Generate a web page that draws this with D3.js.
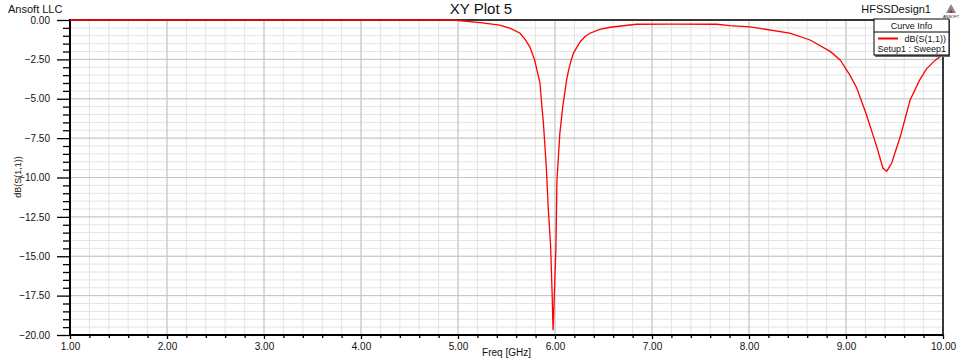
<!DOCTYPE html>
<html>
<head>
<meta charset="utf-8">
<script src="https://cdn.jsdelivr.net/npm/d3@7"></script>
<style>
  body { margin: 0; background: #fff; }
  text { font-family: "Liberation Sans", Arial, sans-serif; fill: #111; }
</style>
</head>
<body>
<svg width="967" height="362"></svg>
<script>
// frequency sweep, GHz
var freq = [1.0, 2.0, 3.0, 4.0, 4.95, 5.23, 5.43, 5.54, 5.64, 5.69, 5.74, 5.79, 5.845, 5.865, 5.88, 5.91, 5.93, 5.955, 5.97, 5.98,
            5.99, 6.01, 6.02, 6.05, 6.08, 6.12, 6.14, 6.165, 6.19, 6.26, 6.31, 6.36, 6.46, 6.57, 6.84, 7.2, 7.67, 7.80, 8.01, 8.11,
            8.42, 8.63, 8.84, 8.94, 9.04, 9.11, 9.21, 9.32, 9.38, 9.42, 9.47, 9.56, 9.66, 9.76, 9.83, 9.92, 10.0];
// dB(S(1,1))
var s11 = [0, 0, 0, 0, 0, -0.17, -0.32, -0.53, -0.84, -1.22, -1.7, -2.54, -4.0, -5.5, -6.5, -9.3, -11.9, -14.4, -17.3, -19.7,
           -18.0, -14.4, -10.2, -7.2, -5.5, -3.8, -3.2, -2.6, -2.1, -1.38, -1.05, -0.84, -0.59, -0.46, -0.27, -0.26, -0.27, -0.36, -0.44, -0.53,
           -0.84, -1.27, -2.01, -2.54, -3.5, -4.3, -6.0, -8.1, -9.4, -9.6, -9.1, -7.4, -5.1, -3.8, -3.1, -2.55, -2.2];

var xTicks = [1, 2, 3, 4, 5, 6, 7, 8, 9, 10];
var yTicks = [0, -2.5, -5, -7.5, -10, -12.5, -15, -17.5, -20];

var svg = d3.select("svg");
var plotL = 70, plotR = 943, plotT = 20, plotB = 335; // plot box edges

var x = d3.scaleLinear().domain([1, 10]).range([plotL, plotR]);
var y = d3.scaleLinear().domain([-20, 0]).range([plotB, plotT]);

// grid: minor first, then major
var minorX = d3.range(1, 10.001, 0.2), minorY = d3.range(-20, 0.001, 0.5);
var grid = svg.append("g");
grid.selectAll(".mx").data(minorX).enter().append("line")
    .attr("x1", d => x(d)).attr("x2", d => x(d)).attr("y1", plotT).attr("y2", plotB)
    .attr("stroke", "#e4e4e4");
grid.selectAll(".my").data(minorY).enter().append("line")
    .attr("y1", d => y(d)).attr("y2", d => y(d)).attr("x1", plotL).attr("x2", plotR)
    .attr("stroke", "#e4e4e4");
grid.selectAll(".jx").data(xTicks).enter().append("line")
    .attr("x1", d => x(d)).attr("x2", d => x(d)).attr("y1", plotT).attr("y2", plotB)
    .attr("stroke", "#c4c4c4");
grid.selectAll(".jy").data(yTicks).enter().append("line")
    .attr("y1", d => y(d)).attr("y2", d => y(d)).attr("x1", plotL).attr("x2", plotR)
    .attr("stroke", "#c4c4c4");

// frame
svg.append("line").attr("x1", plotL).attr("x2", plotR).attr("y1", plotT).attr("y2", plotT).attr("stroke", "#000").attr("stroke-width", 1.5);
svg.append("line").attr("x1", plotR).attr("x2", plotR).attr("y1", plotT).attr("y2", plotB).attr("stroke", "#000").attr("stroke-width", 1.5);

// axes
var yAxis = d3.axisLeft(y).tickValues(yTicks).tickFormat(d3.format(".2f")).tickSize(13).tickPadding(7);
var gy = svg.append("g").attr("transform", "translate(" + plotL + ",0)").call(yAxis);
gy.select(".domain").remove();
gy.selectAll("text").style("font-size", "10px").attr("font-family", null);
gy.selectAll("line").attr("stroke", "#000").attr("stroke-width", 1.3);
svg.append("g").attr("transform", "translate(" + plotL + ",0)")
    .call(d3.axisLeft(y).tickValues(minorY.filter(d => d % 2.5 !== 0)).tickSize(7).tickFormat(""))
    .call(g => g.select(".domain").remove())
    .selectAll("line").attr("stroke", "#000").attr("stroke-width", 1.3);

var xAxis = d3.axisBottom(x).tickValues(xTicks).tickFormat(d3.format(".2f")).tickSize(4).tickPadding(4);
var gx = svg.append("g").attr("transform", "translate(0," + plotB + ")").call(xAxis);
gx.select(".domain").remove();
gx.selectAll("text").style("font-size", "10px");
gx.selectAll("line").attr("stroke", "#000").attr("stroke-width", 1.3);
svg.append("g").attr("transform", "translate(0," + plotB + ")")
    .call(d3.axisBottom(x).tickValues(minorX.filter(d => Math.abs(d - Math.round(d)) > 0.01)).tickSize(3).tickFormat(""))
    .call(g => g.select(".domain").remove())
    .selectAll("line").attr("stroke", "#000").attr("stroke-width", 1.3);

svg.append("line").attr("x1", plotL).attr("x2", plotL).attr("y1", plotT - 1).attr("y2", plotB + 1).attr("stroke", "#000").attr("stroke-width", 2);
svg.append("line").attr("x1", plotL).attr("x2", plotR).attr("y1", plotB).attr("y2", plotB).attr("stroke", "#000").attr("stroke-width", 2);

// curve
var line = d3.line().x((d, i) => x(freq[i])).y(d => y(d));
svg.append("path").datum(s11).attr("d", line)
    .attr("fill", "none").attr("stroke", "#ff0000").attr("stroke-width", 1.3);

// texts
svg.append("text").attr("x", 8).attr("y", 13).style("font-size", "11px").text("Ansoft LLC");
svg.append("text").attr("x", 481).attr("y", 14).attr("text-anchor", "middle").style("font-size", "15px").text("XY Plot 5");
svg.append("text").attr("x", 931).attr("y", 13).attr("text-anchor", "end").style("font-size", "11px").text("HFSSDesign1");
svg.append("text").attr("x", (plotL + plotR) / 2).attr("y", 356).attr("text-anchor", "middle").style("font-size", "10px").text("Freq [GHz]");
svg.append("text").attr("transform", "translate(21,177) rotate(-90)").attr("text-anchor", "middle").style("font-size", "9px").text("dB(S(1,1))");

// logo
var logo = svg.append("g").attr("transform", "translate(946,4)");
logo.append("path").attr("d", "M0,9 L5,0 L10,9 Z").attr("fill", "#888");
logo.append("path").attr("d", "M3,9 L5,5 L7,9 Z").attr("fill", "#d22");
logo.append("text").attr("x", 5).attr("y", 14).attr("text-anchor", "middle").style("font-size", "4px").text("ANSOFT");

// legend
var lg = svg.append("g").attr("transform", "translate(874,19)");
lg.append("rect").attr("x", 1).attr("y", 1).attr("width", 75).attr("height", 37).attr("fill", "#666");
lg.append("rect").attr("width", 75).attr("height", 36).attr("fill", "#fff").attr("stroke", "#000");
lg.append("line").attr("x1", 0).attr("x2", 75).attr("y1", 13).attr("y2", 13).attr("stroke", "#000");
lg.append("text").attr("x", 37.5).attr("y", 9.5).attr("text-anchor", "middle").style("font-size", "9px").text("Curve Info");
lg.append("line").attr("x1", 4).attr("x2", 24).attr("y1", 19.5).attr("y2", 19.5).attr("stroke", "#ff0000").attr("stroke-width", 2);
lg.append("text").attr("x", 72).attr("y", 23).attr("text-anchor", "end").style("font-size", "9px").text("dB(S(1,1))");
lg.append("text").attr("x", 72).attr("y", 32.5).attr("text-anchor", "end").style("font-size", "9px").text("Setup1 : Sweep1");
</script>
</body>
</html>
